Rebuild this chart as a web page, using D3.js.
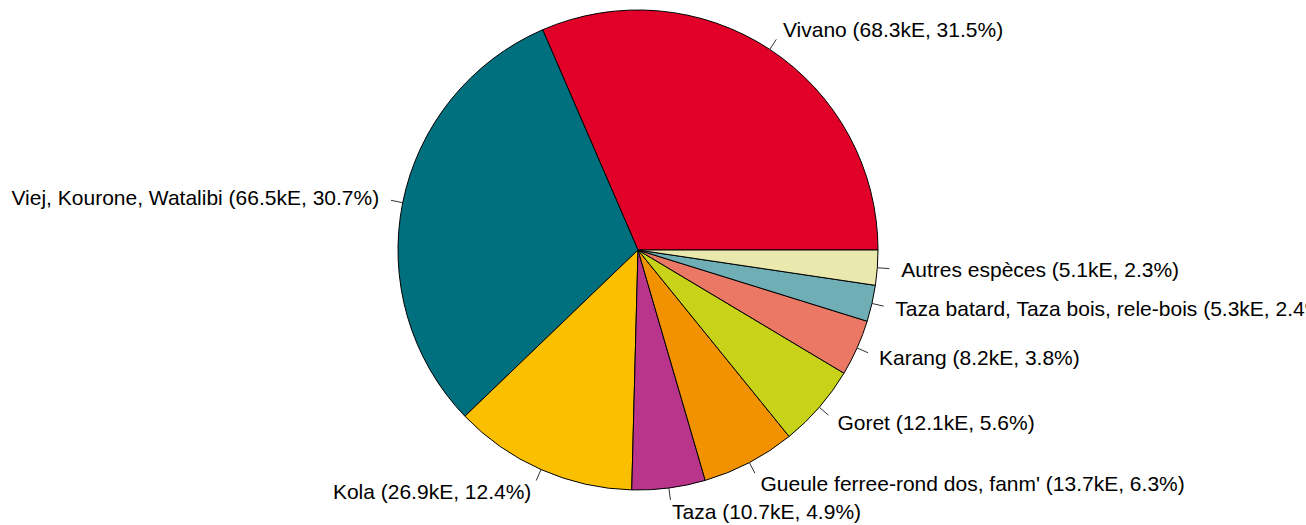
<!DOCTYPE html>
<html>
<head>
<meta charset="utf-8">
<script src="https://cdn.jsdelivr.net/npm/d3@7"></script>
<style>
html,body{margin:0;padding:0;background:#fff;overflow:hidden;}
svg{display:block;}
</style>
</head>
<body>
<svg id="chart" width="1306" height="525"></svg>
<script>
const categories = ["Vivano", "Viej, Kourone, Watalibi", "Kola", "Taza", "Gueule ferree-rond dos, fanm'", "Goret", "Karang", "Taza batard, Taza bois, rele-bois", "Autres espèces"];
const valuesK = [68.3, 66.5, 26.9, 10.7, 13.7, 12.1, 8.2, 5.3, 5.1];
const percents = ["31.5", "30.7", "12.4", "4.9", "6.3", "5.6", "3.8", "2.4", "2.3"];
const colors = ["#E00028", "#00707F", "#FAC000", "#B9348B", "#F29200", "#C8D218", "#EB7865", "#6FAEB5", "#E9E9AE"];

const W = 1306, H = 525;
const cx = 638, cy = 250, R = 240;

const svg = d3.select("#chart");
const g = svg.append("g").attr("transform", `translate(${cx},${cy})`);

const data = categories.map((c, i) => ({name: c, value: valuesK[i], pct: percents[i], color: colors[i]}));

// R pie: counterclockwise starting at 3 o'clock
const pie = d3.pie().value(d => d.value).sort(null)
  .startAngle(Math.PI / 2).endAngle(Math.PI / 2 - 2 * Math.PI);
const arcs = pie(data);
const arc = d3.arc().innerRadius(0).outerRadius(R);

g.selectAll("path.slice").data(arcs).enter().append("path")
  .attr("class", "slice")
  .attr("d", arc)
  .attr("fill", d => d.data.color)
  .attr("stroke", "#000")
  .attr("stroke-width", 1)
  .attr("stroke-linejoin", "round");

arcs.forEach(d => {
  const m = (d.startAngle + d.endAngle) / 2;
  const sx = Math.sin(m), sy = -Math.cos(m);
  g.append("line")
    .attr("x1", R * sx).attr("y1", R * sy)
    .attr("x2", 1.05 * R * sx).attr("y2", 1.05 * R * sy)
    .attr("stroke", "#333").attr("stroke-width", 1);
  g.append("text")
    .attr("x", 1.1 * R * sx).attr("y", 1.1 * R * sy)
    .attr("dy", "0.35em")
    .attr("text-anchor", sx < 0 ? "end" : "start")
    .attr("font-family", "'Liberation Sans', Arial, sans-serif")
    .attr("font-size", 21)
    .attr("fill", "#000")
    .text(`${d.data.name} (${d.data.value}kE, ${d.data.pct}%)`);
});
</script>
</body>
</html>
